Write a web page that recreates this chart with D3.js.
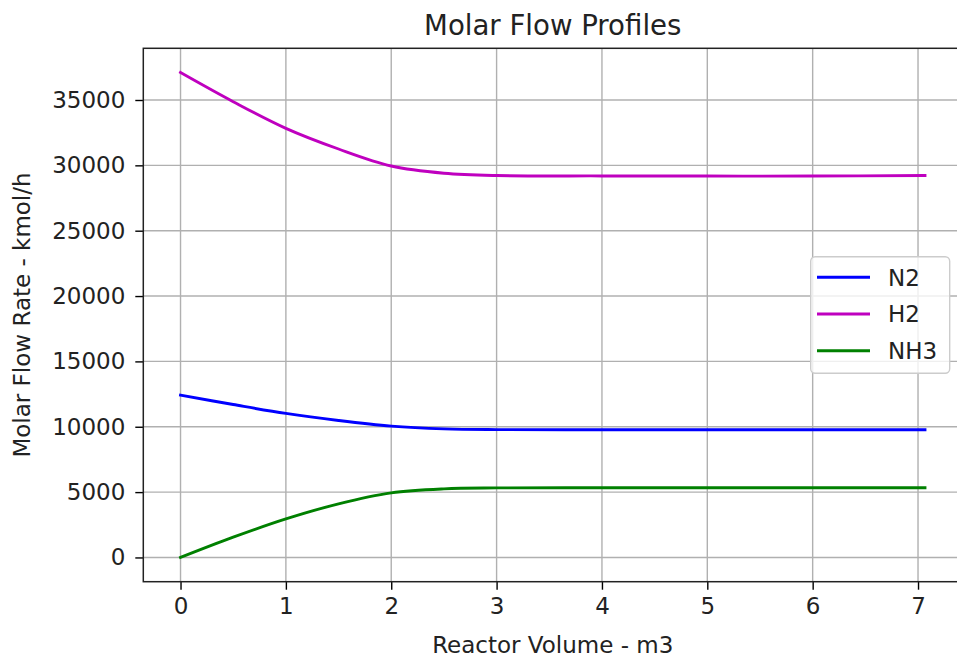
<!DOCTYPE html>
<html>
<head>
<meta charset="utf-8">
<script src="https://cdn.jsdelivr.net/npm/d3@7"></script>
<style>
  html, body { margin: 0; padding: 0; background: #fff; }
  svg { display: block; font-family: "DejaVu Sans", sans-serif; }
</style>
</head>
<body>
<svg id="chart" width="957" height="659"></svg>
<script>
// ---- Data ----
const volume = [0, 0.5, 1, 1.5, 2, 2.5, 3, 4, 5, 6, 7.066];
const seriesNames = ["N2", "H2", "NH3"];
const n2  = [12420, 11700, 11020, 10480, 10050, 9840, 9780, 9770, 9770, 9770, 9770];
const h2  = [37100, 34870, 32830, 31250, 29950, 29400, 29220, 29190, 29180, 29180, 29220];
const nh3 = [0, 1550, 2950, 4100, 4940, 5250, 5320, 5330, 5330, 5330, 5330];
const xTicks = [0, 1, 2, 3, 4, 5, 6, 7];
const yTicks = [0, 5000, 10000, 15000, 20000, 25000, 30000, 35000];
const colors = ["#0000ff", "#bf00bf", "#008000"];
const titleText = "Molar Flow Profiles";
const xLabel = "Reactor Volume - m3";
const yLabel = "Molar Flow Rate - kmol/h";

const seriesValues = [n2, h2, nh3];

const svg = d3.select("#chart");
const plot = { left: 143.3, right: 962.2, top: 48.3, bottom: 581.7 };

const xExt = d3.extent(volume);
const xPad = (xExt[1] - xExt[0]) * 0.05;
const allY = seriesValues.flat();
const yExt = d3.extent(allY);
const yPad = (yExt[1] - yExt[0]) * 0.05;

const x = d3.scaleLinear().domain([xExt[0] - xPad, xExt[1] + xPad]).range([plot.left, plot.right]);
const y = d3.scaleLinear().domain([yExt[0] - yPad, yExt[1] + yPad]).range([plot.bottom, plot.top]);

const fontSize = 23;

// grid
const grid = svg.append("g");
grid.selectAll("line.vx").data(xTicks).enter().append("line")
  .attr("x1", d => x(d)).attr("x2", d => x(d))
  .attr("y1", plot.top).attr("y2", plot.bottom)
  .attr("stroke", "#b0b0b0").attr("stroke-width", 1.4);
grid.selectAll("line.hy").data(yTicks).enter().append("line")
  .attr("y1", d => y(d)).attr("y2", d => y(d))
  .attr("x1", plot.left).attr("x2", plot.right)
  .attr("stroke", "#b0b0b0").attr("stroke-width", 1.4);

// lines
const line = d3.line().x((d, i) => x(volume[i])).y(d => y(d)).curve(d3.curveCatmullRom.alpha(0.5));
seriesValues.forEach((vals, k) => {
  svg.append("path").datum(vals)
    .attr("d", line)
    .attr("fill", "none")
    .attr("stroke", colors[k])
    .attr("stroke-width", 2.9)
    .attr("stroke-linecap", "square");
});

// axes
const xAxis = d3.axisBottom(x).tickValues(xTicks).tickFormat(d3.format("d")).tickSize(8).tickPadding(8);
const yAxis = d3.axisLeft(y).tickValues(yTicks).tickFormat(d3.format("d")).tickSize(8).tickPadding(10);

const gx = svg.append("g").attr("transform", `translate(0,${plot.bottom})`).call(xAxis);
const gy = svg.append("g").attr("transform", `translate(${plot.left},0)`).call(yAxis);
[gx, gy].forEach(g => {
  g.select(".domain").remove();
  g.selectAll(".tick line").attr("stroke", "#000").attr("stroke-width", 1.4);
  g.selectAll(".tick text").attr("fill", "#222").style("font-size", fontSize + "px")
    .style("font-family", "DejaVu Sans, sans-serif");
});

// spines
svg.append("rect")
  .attr("x", plot.left).attr("y", plot.top)
  .attr("width", plot.right - plot.left).attr("height", plot.bottom - plot.top)
  .attr("fill", "none").attr("stroke", "#222").attr("stroke-width", 1.5);

// title & labels
svg.append("text").attr("x", (plot.left + plot.right) / 2).attr("y", 35)
  .attr("text-anchor", "middle").attr("fill", "#222")
  .style("font-size", (fontSize * 1.2) + "px").text(titleText);
svg.append("text").attr("x", (plot.left + plot.right) / 2).attr("y", 653)
  .attr("text-anchor", "middle").attr("fill", "#222")
  .style("font-size", fontSize + "px").text(xLabel);
svg.append("text")
  .attr("transform", `translate(30,${(plot.top + plot.bottom) / 2}) rotate(-90)`)
  .attr("text-anchor", "middle").attr("fill", "#222")
  .style("font-size", fontSize + "px").text(yLabel);

// legend
const lg = svg.append("g");
lg.append("rect").attr("x", 810.7).attr("y", 256.7).attr("width", 139).attr("height", 116.6)
  .attr("rx", 4.5).attr("fill", "#fff").attr("fill-opacity", 0.8)
  .attr("stroke", "#cccccc").attr("stroke-width", 1.4);
seriesNames.forEach((name, k) => {
  const cy = 277.3 + k * 36.7;
  lg.append("line").attr("x1", 817).attr("x2", 870).attr("y1", cy).attr("y2", cy)
    .attr("stroke", colors[k]).attr("stroke-width", 2.9);
  lg.append("text").attr("x", 888).attr("y", cy + 8.2).attr("fill", "#222")
    .style("font-size", fontSize + "px").text(name);
});
</script>
</body>
</html>
